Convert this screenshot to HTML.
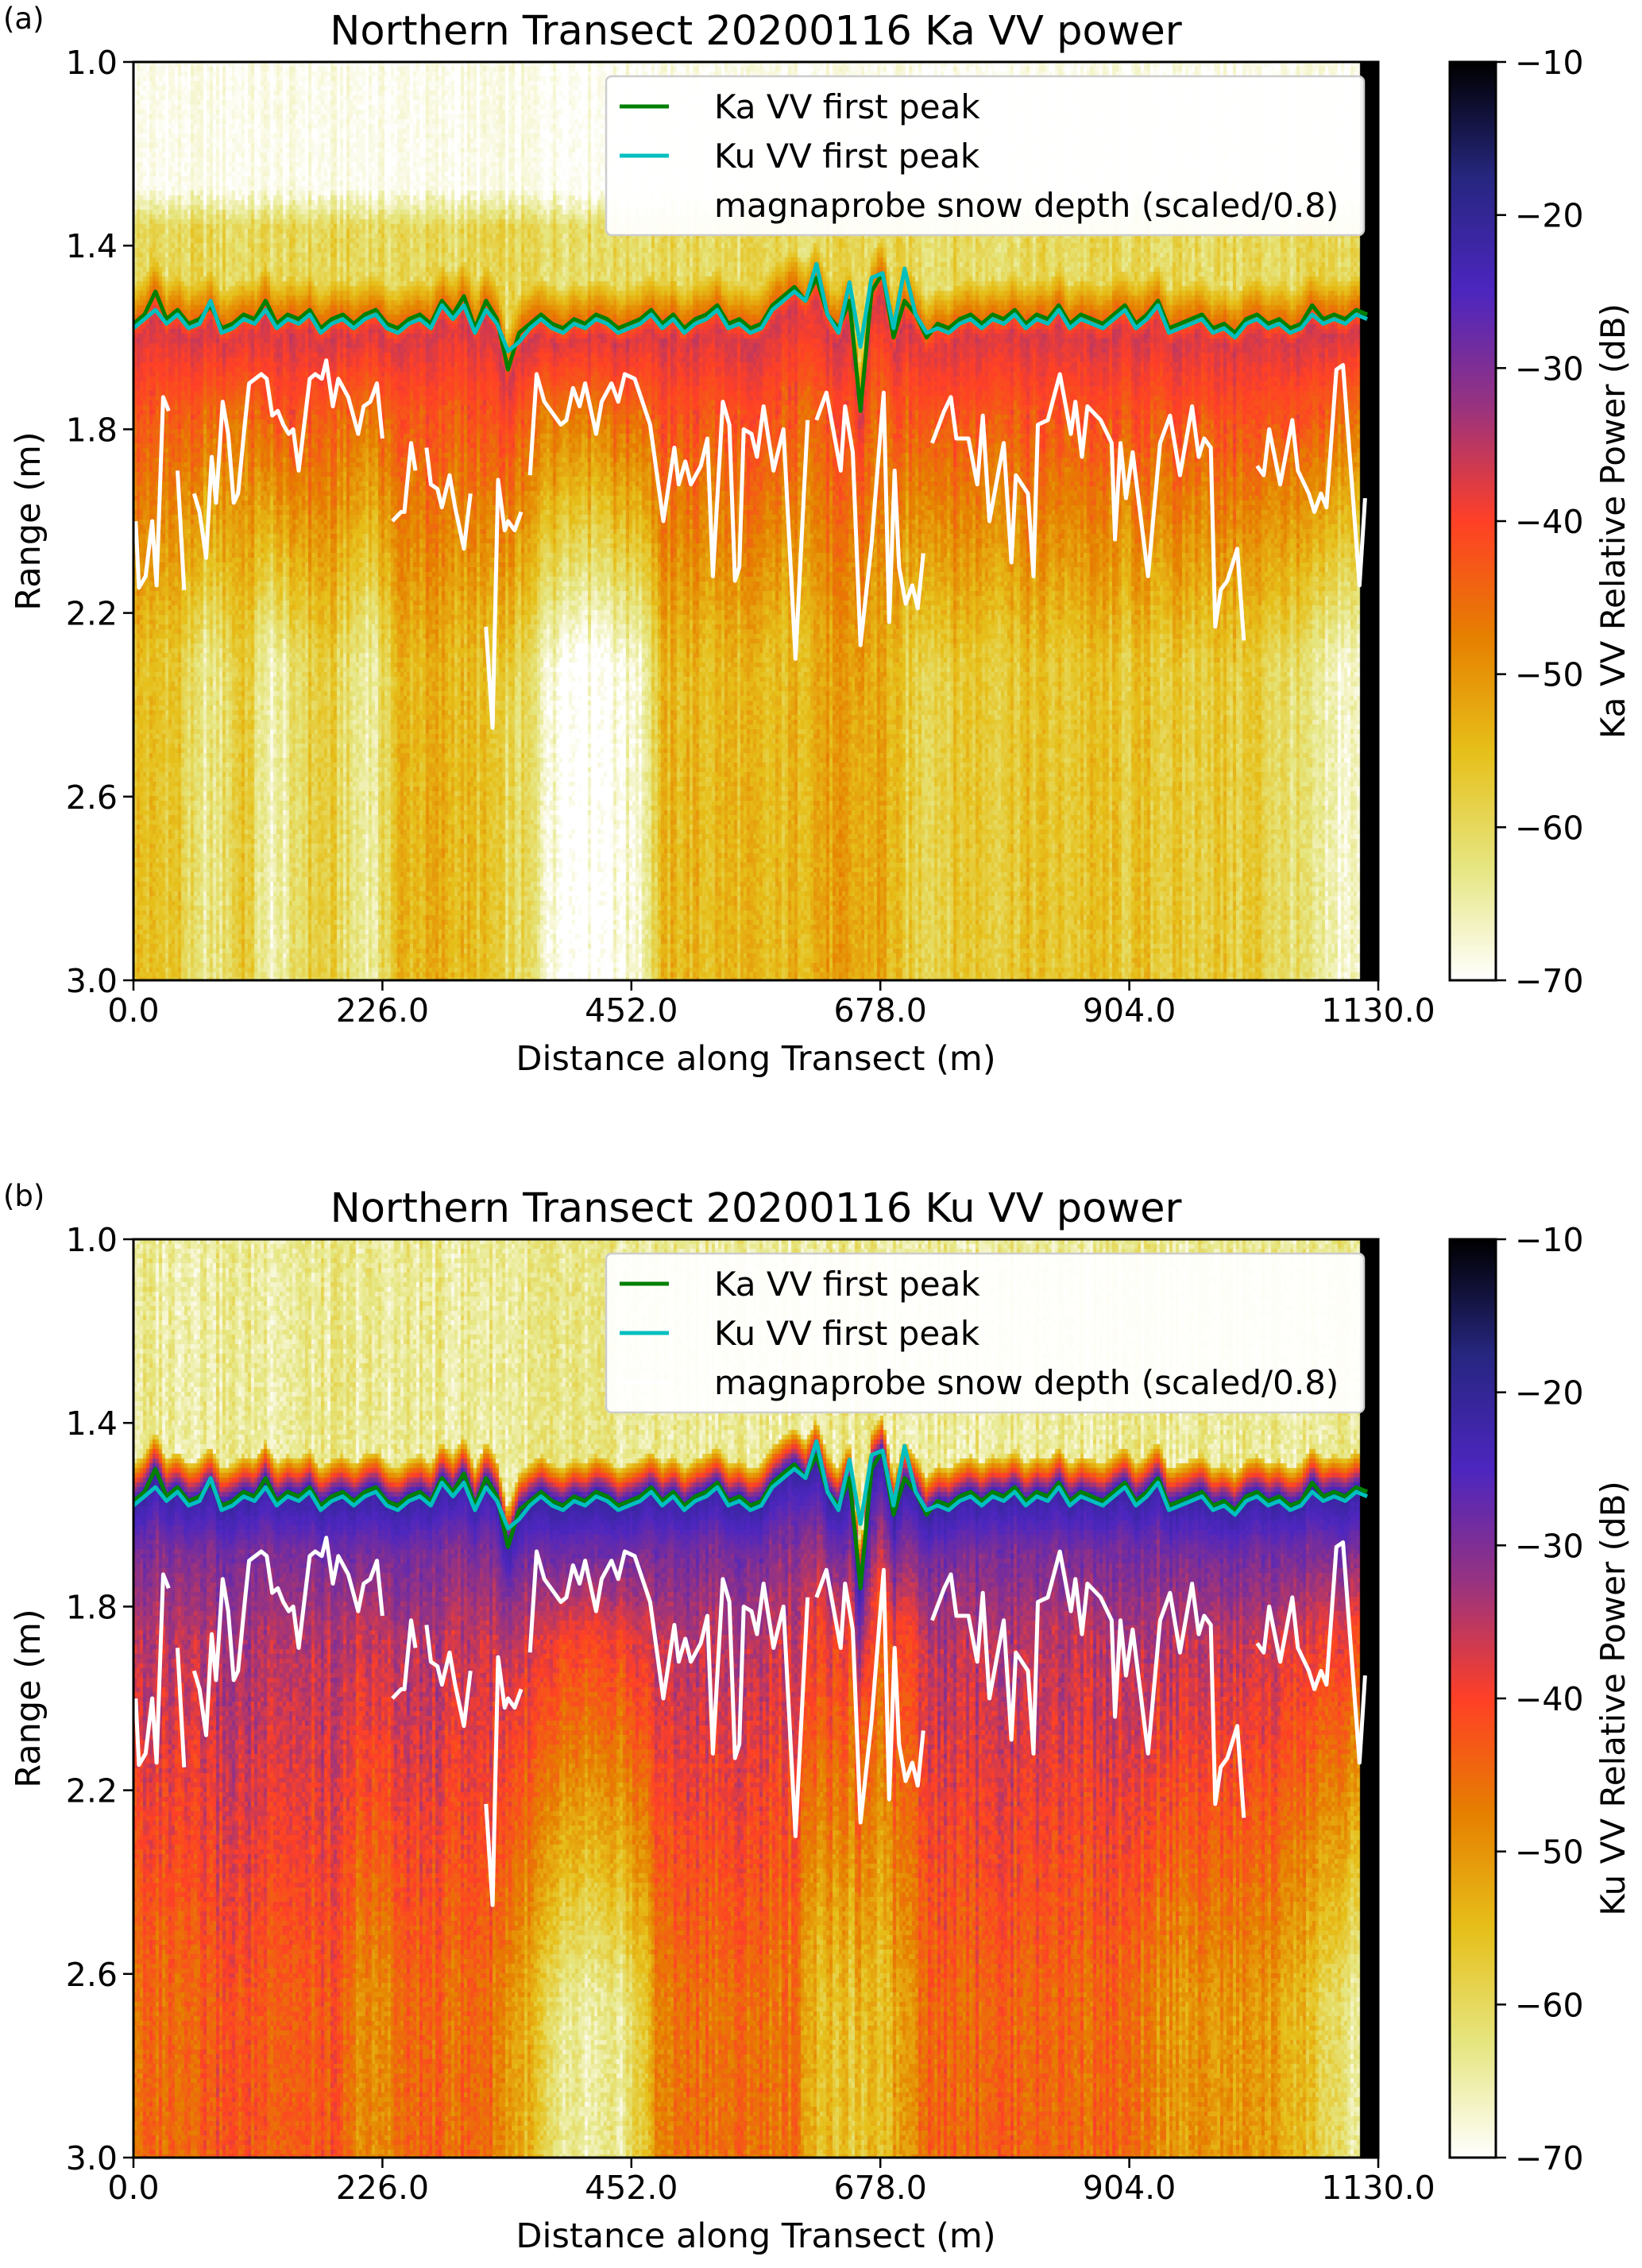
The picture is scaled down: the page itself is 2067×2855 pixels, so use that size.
<!DOCTYPE html>
<html><head><meta charset="utf-8">
<style>
html,body{margin:0;padding:0;background:#fff;}
body{width:2067px;height:2855px;position:relative;overflow:hidden;font-family:"DejaVu Sans","Liberation Sans",sans-serif;}
canvas{position:absolute;}
svg{position:absolute;left:0;top:0;}
</style></head>
<body>
<canvas id="hmA" style="left:168px;top:78px" width="1567" height="1156"></canvas>
<canvas id="hmB" style="left:168px;top:1560px" width="1567" height="1156"></canvas>
<canvas id="cbA" style="left:1825px;top:78px" width="58" height="1156"></canvas>
<canvas id="cbB" style="left:1825px;top:1560px" width="58" height="1156"></canvas>
<svg id="ov" width="2067" height="2855" xmlns="http://www.w3.org/2000/svg"></svg>
<script>
// ---- data ----
const xTicks = [0, 226, 452, 678, 904, 1130];
const yTicks = [1.0, 1.4, 1.8, 2.2, 2.6, 3.0];
const cbTicks = [-10, -20, -30, -40, -50, -60, -70];
const peakStep = 10; // m between first-peak samples
const kaPeak = [1.57,1.55,1.50,1.56,1.54,1.57,1.56,1.53,1.58,1.57,1.55,1.56,1.52,1.57,1.55,1.56,1.54,1.58,1.56,1.55,1.57,1.55,1.54,1.57,1.58,1.56,1.55,1.57,1.52,1.55,1.51,1.58,1.52,1.56,1.67,1.59,1.57,1.55,1.57,1.58,1.56,1.57,1.55,1.56,1.58,1.57,1.56,1.54,1.57,1.55,1.58,1.56,1.55,1.53,1.57,1.56,1.58,1.57,1.53,1.51,1.49,1.52,1.47,1.55,1.58,1.52,1.76,1.50,1.46,1.60,1.52,1.55,1.60,1.57,1.58,1.56,1.55,1.57,1.55,1.56,1.54,1.57,1.55,1.56,1.53,1.57,1.55,1.56,1.57,1.55,1.53,1.57,1.55,1.52,1.58,1.57,1.56,1.55,1.58,1.57,1.59,1.56,1.55,1.57,1.56,1.58,1.57,1.53,1.56,1.55,1.56,1.54,1.55];
const kuPeak = [1.58,1.56,1.54,1.57,1.55,1.58,1.57,1.52,1.59,1.58,1.56,1.57,1.54,1.58,1.56,1.57,1.55,1.59,1.57,1.56,1.58,1.56,1.55,1.58,1.59,1.57,1.56,1.58,1.53,1.56,1.53,1.59,1.54,1.57,1.63,1.61,1.58,1.56,1.58,1.59,1.57,1.58,1.56,1.57,1.59,1.58,1.57,1.55,1.58,1.56,1.59,1.57,1.56,1.54,1.58,1.57,1.59,1.58,1.54,1.52,1.50,1.52,1.44,1.55,1.59,1.48,1.62,1.47,1.46,1.58,1.45,1.55,1.59,1.58,1.59,1.57,1.56,1.58,1.56,1.57,1.55,1.58,1.56,1.57,1.54,1.58,1.56,1.57,1.58,1.56,1.54,1.58,1.56,1.53,1.59,1.58,1.57,1.56,1.59,1.58,1.60,1.57,1.56,1.58,1.57,1.59,1.58,1.55,1.57,1.56,1.57,1.55,1.56];
const snowDist = [2,5,11,17,21,27,32,null,40,46,null,55,60,66,71,75,81,86,91,95,101,105,116,121,126,131,136,141,145,150,160,165,171,175,181,186,195,204,209,215,221,226,null,235,243,246,252,256,null,266,270,276,280,287,292,300,306,null,320,326,331,337,340,346,352,null,360,366,373,379,388,393,399,405,410,420,425,434,440,446,455,462,469,481,491,495,501,506,515,521,526,535,541,546,550,554,561,566,572,581,590,601,612,null,620,629,642,646,653,660,670,681,686,691,695,701,707,712,717,null,725,736,742,747,758,766,771,777,790,797,801,812,817,821,830,841,851,855,861,866,878,888,891,896,901,907,921,932,941,950,961,967,972,978,982,987,993,1002,1008,null,1020,1026,1031,1041,1052,1057,1067,1072,1078,1083,1092,1098,1113,1118];
const snowRange = [2.00,2.145,2.12,2.00,2.14,1.73,1.76,null,1.89,2.15,null,1.94,1.98,2.08,1.86,1.96,1.74,1.81,1.96,1.94,1.79,1.70,1.68,1.69,1.77,1.76,1.79,1.81,1.80,1.89,1.69,1.68,1.69,1.65,1.75,1.69,1.73,1.81,1.75,1.74,1.70,1.82,null,2.00,1.98,1.98,1.83,1.89,null,1.84,1.92,1.93,1.97,1.90,1.97,2.06,1.94,null,2.23,2.45,1.91,2.02,2.00,2.02,1.98,null,1.90,1.68,1.74,1.76,1.79,1.78,1.71,1.75,1.70,1.81,1.74,1.70,1.74,1.68,1.69,1.74,1.79,2.00,1.84,1.92,1.87,1.92,1.88,1.82,2.12,1.74,1.79,2.13,2.10,1.80,1.81,1.86,1.75,1.89,1.80,2.30,1.78,null,1.78,1.72,1.89,1.75,1.85,2.27,2.05,1.72,2.22,1.89,2.10,2.18,2.14,2.19,2.07,null,1.83,1.76,1.73,1.82,1.82,1.92,1.77,2.00,1.83,2.09,1.90,1.94,2.12,1.79,1.78,1.68,1.81,1.74,1.86,1.75,1.78,1.83,2.04,1.83,1.95,1.85,2.12,1.83,1.77,1.90,1.75,1.86,1.82,1.84,2.23,2.15,2.13,2.06,2.26,null,1.88,1.90,1.80,1.92,1.78,1.89,1.94,1.98,1.94,1.97,1.67,1.66,2.14,1.95];
const colStep = 20; // m between subsurface-power samples
const kaTop  = [-42,-42,-43,-44,-45,-46,-43,-42,-42,-44,-45,-45,-43,-42,-42,-42,-42,-43,-45,-46,-46,-46,-45,-44,-42,-42,-42,-42,-42,-42,-42,-42,-42,-43,-43,-43,-42,-42,-42,-42,-42,-42,-42,-42,-42,-42,-42,-42,-42,-42,-42,-42,-42,-43,-44,-45,-45];
const kaDeep = [-55,-56,-56,-64,-62,-55,-66,-64,-58,-58,-63,-64,-54,-54,-53,-55,-56,-60,-61,-68,-70,-70,-69,-66,-55,-54,-55,-54,-55,-56,-54,-52,-52,-53,-52,-58,-58,-57,-56,-57,-56,-56,-57,-56,-56,-57,-56,-57,-58,-56,-58,-57,-60,-62,-66,-67,-67];
const kuTop  = [-35,-34,-34,-34,-33,-33,-33,-34,-35,-35,-36,-36,-34,-34,-34,-35,-35,-36,-37,-40,-41,-41,-40,-37,-35,-34,-34,-34,-34,-35,-35,-37,-39,-41,-41,-39,-35,-34,-34,-33,-34,-34,-34,-35,-34,-34,-35,-34,-35,-35,-36,-35,-36,-37,-38,-40,-40];
const kuDeep = [-46,-45,-44,-43,-42,-42,-42,-43,-44,-42,-48,-50,-46,-44,-45,-45,-44,-50,-54,-63,-65,-66,-64,-58,-47,-46,-45,-46,-45,-46,-46,-54,-56,-57,-55,-50,-44,-44,-44,-43,-44,-44,-44,-45,-44,-45,-48,-50,-50,-50,-51,-50,-52,-54,-58,-64,-64];
const invalidFrom = 1114; // no data beyond this distance (black strip)

// ---- geometry ----
const PX0=168, PX1=1735, PW=PX1-PX0, PH=1156;
const panels=[{top:78,name:'a',band:'Ka'},{top:1560,name:'b',band:'Ku'}];
const xS=d=>PX0+d/1130*PW;
const yS=(r,top)=>top+(r-1)/2*PH;

const cm=[[0,0,0],[0.15,0.15,0.5],[0.3,0.15,0.75],[0.6,0.2,0.5],[1,0.25,0.15],[0.9,0.5,0],[0.9,0.75,0.1],[0.9,0.9,0.5],[1,1,1]];
function color(v){let f=(-10-v)/60;f=Math.max(0,Math.min(1,f))*8;const i=Math.min(7,Math.floor(f)),t=f-i;
 return cm[i].map((c,k)=>Math.round(255*(c+(cm[i+1][k]-c)*t)));}
function interp(arr,step,d){let p=d/step;let i=Math.floor(p);if(i<0)return arr[0];if(i>=arr.length-1)return arr[arr.length-1];const t=p-i;return arr[i]*(1-t)+arr[i+1]*t;}
function hash(a,b){const s=Math.sin(a*12.9898+b*78.233)*43758.5453;return s-Math.floor(s);}
const lerp=(a,b,t)=>a+(b-a)*Math.max(0,Math.min(1,t));

function valKa(d,r,ci,ri){
 if(d>=invalidFrom)return -10;
 const s=interp(kaPeak,peakStep,d);const n=(hash(ci,1)-0.5)*6+(hash(ci,ri)-0.5)*4;
 if(r<s-0.08){let v=r<1.28?-69:(r<1.36?lerp(-69,-60,(r-1.28)/0.08):-60);return v+n*(r<1.28?0.5:1);}
 if(r<s+0.04)return lerp(-58,-37,(r-s+0.08)/0.12)+n*0.5;
 const top=interp(kaTop,colStep,d),deep=interp(kaDeep,colStep,d);
 if(r<s+0.2)return lerp(-37,top,(r-s-0.04)/0.16)+n*0.5;
 return lerp(top,deep,(r-s-0.2)/0.55)+n;
}
function valKu(d,r,ci,ri){
 if(d>=invalidFrom)return -10;
 const s=interp(kaPeak,peakStep,d);const n=(hash(ci,3)-0.5)*6+(hash(ci,ri+7)-0.5)*5;
 if(r<s-0.08){return -64+n;}
 if(r<s)return lerp(-58,-21,(r-s+0.08)/0.08)+n*0.3;
 const top=interp(kuTop,colStep,d),deep=interp(kuDeep,colStep,d);
 if(r<s+0.12)return lerp(-21,-29,(r-s)/0.12)+n*0.3;
 if(r<s+0.3)return lerp(-29,top,(r-s-0.12)/0.18)+n*0.7;
 return lerp(top,deep,(r-s-0.3)/0.8)+n;
}
function drawHeat(id,fn){
 const c=document.getElementById(id),g=c.getContext('2d');const cw=4,rh=6;
 for(let x=0,ci=0;x<PW;x+=cw,ci++){const d=(x+cw/2)/PW*1130;
  for(let y=0,ri=0;y<PH;y+=rh,ri++){const r=1+(y+rh/2)/PH*2;const col=color(fn(d,r,ci,ri));
   g.fillStyle=`rgb(${col[0]},${col[1]},${col[2]})`;g.fillRect(x,y,cw,rh);}}
}
drawHeat('hmA',valKa);drawHeat('hmB',valKu);
['cbA','cbB'].forEach(id=>{const c=document.getElementById(id),g=c.getContext('2d');
 for(let y=0;y<PH;y++){const v=-10-60*(y+0.5)/PH;const col=color(v);g.fillStyle=`rgb(${col[0]},${col[1]},${col[2]})`;g.fillRect(0,y,58,1);}});

// ---- SVG overlay ----
const NS='http://www.w3.org/2000/svg';const ov=document.getElementById('ov');
function el(tag,attrs,parent){const e=document.createElementNS(NS,tag);for(const k in attrs)e.setAttribute(k,attrs[k]);(parent||ov).appendChild(e);return e;}
function txt(s,attrs,parent){const e=el('text',Object.assign({'font-family':'"DejaVu Sans","Liberation Sans",sans-serif',fill:'#000'},attrs),parent);e.textContent=s;return e;}
function linePath(ds,rs,top){let p='',pen=false;for(let i=0;i<ds.length;i++){if(ds[i]===null||rs[i]===null){pen=false;continue;}
 p+=(pen?'L':'M')+xS(ds[i]).toFixed(1)+' '+yS(rs[i],top).toFixed(1);pen=true;}return p;}
const peakD=kaPeak.map((_,i)=>i*peakStep);

panels.forEach(P=>{
 const top=P.top,bot=top+PH;
 const g=el('g',{});
 
 
 const ka=el('path',{d:linePath(peakD,kaPeak,top),fill:'none',stroke:'#008000','stroke-width':5,'stroke-linejoin':'round'},g);
 
 
 const ku=el('path',{d:linePath(peakD,kuPeak,top),fill:'none',stroke:'#00bfbf','stroke-width':5,'stroke-linejoin':'round'},g);
 
 
 const sn=el('path',{d:linePath(snowDist,snowRange,top),fill:'none',stroke:'#fff','stroke-width':5,'stroke-linejoin':'round'},g);
 
 
 const fr=el('rect',{x:PX0,y:top,width:PW,height:PH,fill:'none',stroke:'#000','stroke-width':3},g);
 
 
 xTicks.forEach(t=>{const x=xS(t);el('line',{x1:x,x2:x,y1:bot,y2:bot+13,stroke:'#000','stroke-width':2.5},g);
  const l=txt(t.toFixed(1),{x:x,y:bot+52,'font-size':41,'text-anchor':'middle'},g);
  
  });
 yTicks.forEach(t=>{const y=yS(t,top);el('line',{x1:PX0-13,x2:PX0,y1:y,y2:y,stroke:'#000','stroke-width':2.5},g);
  const l=txt(t.toFixed(1),{x:PX0-20,y:y+15,'font-size':41,'text-anchor':'end'},g);
  
  });
 const xt=txt('Distance along Transect (m)',{x:(PX0+PX1)/2,y:bot+113,'font-size':43,'text-anchor':'middle'},g);
 
 
 const yt=txt('Range (m)',{x:0,y:0,'font-size':43,'text-anchor':'middle',transform:`translate(50 ${top+PH/2}) rotate(-90)`},g);
 
 
 const ti=txt(`Northern Transect 20200116 ${P.band} VV power`,{x:(PX0+PX1)/2,y:top-22,'font-size':51,'text-anchor':'middle'},g);
 
 
 const pl=txt(`(${P.name})`,{x:4,y:top-42,'font-size':37},g);
 
 
 const cbx=1825,cbw=58;
 const cf=el('rect',{x:cbx,y:top,width:cbw,height:PH,fill:'none',stroke:'#000','stroke-width':3},g);
 
 
 cbTicks.forEach(t=>{const y=top+(-10-t)/60*PH;el('line',{x1:cbx+cbw,x2:cbx+cbw+13,y1:y,y2:y,stroke:'#000','stroke-width':2.5},g);
  const l=txt('\u2212'+Math.abs(t),{x:cbx+cbw+24,y:y+15,'font-size':41},g);
  
  });
 const ct=txt(`${P.band} VV Relative Power (dB)`,{x:0,y:0,'font-size':42,'text-anchor':'middle',transform:`translate(2045 ${top+PH/2}) rotate(-90)`},g);
 
 
 const lg=el('g',{},g);
 
 
 el('rect',{x:763,y:top+18,width:954,height:200,rx:7,fill:'#fff','fill-opacity':0.95,stroke:'#ccc','stroke-width':2.5},lg);
 const ents=[['Ka VV first peak','#008000'],['Ku VV first peak','#00bfbf'],['magnaprobe snow depth (scaled/0.8)','#fff']];
 ents.forEach((e,i)=>{const y=top+56+i*62;
  const en=el('g',{},lg);
  
  
  el('line',{x1:780,x2:842,y1:y,y2:y,stroke:e[1],'stroke-width':5},en);
  txt(e[0],{x:899,y:y+15,'font-size':42},en);});
});
</script>
</body></html>
